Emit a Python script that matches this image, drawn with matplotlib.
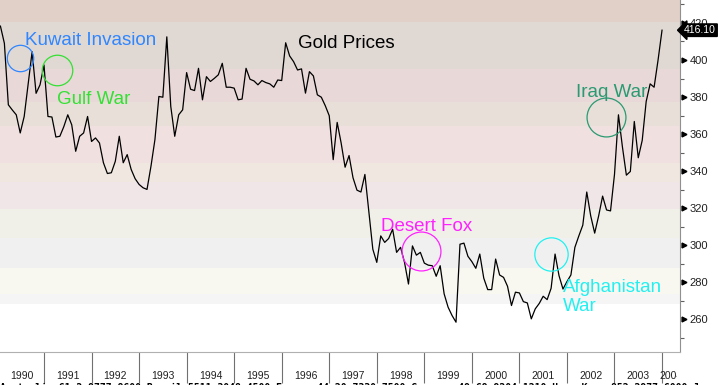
import numpy as np
import matplotlib
matplotlib.use("Agg")
import matplotlib.pyplot as plt
from matplotlib.transforms import Bbox, TransformedBbox

# ---------------- data ----------------
month_index = list(range(1, 169))  # months since Jan 1990 (Feb 1990 .. Jan 2004)
gold_prices = [
    418.3, 409.0, 375.8, 373.0, 370.4, 360.6, 369.5, 387.0, 404.5, 382.0, 386.6, 397.3,
    369.5, 369.2, 358.4, 358.8, 364.0, 370.4, 365.0, 350.7, 358.8, 360.6, 369.5, 356.0,
    357.9, 355.2, 344.5, 338.7, 339.1, 345.3, 358.8, 344.5, 348.9, 340.9, 335.9, 332.8,
    331.0, 330.1, 342.6, 357.0, 380.3, 379.9, 412.5, 374.9, 358.8, 370.4, 373.1, 393.2,
    384.2, 383.5, 395.5, 378.5, 391.0, 388.4, 390.1, 392.0, 398.2, 385.3, 385.3, 384.8,
    378.5, 378.9, 395.5, 389.6, 388.7, 386.6, 388.9, 387.8, 387.1, 385.3, 389.2, 388.9,
    409.3, 402.2, 399.1, 394.6, 395.2, 382.1, 393.7, 391.4, 381.2, 379.9, 375.3, 369.9,
    346.2, 366.3, 355.2, 342.1, 348.4, 336.4, 329.7, 328.7, 338.2, 318.0, 297.8, 290.7,
    305.0, 301.5, 303.6, 308.6, 296.1, 298.8, 290.7, 279.0, 299.6, 294.6, 296.1, 290.3,
    289.2, 288.9, 283.2, 288.9, 273.7, 266.5, 262.0, 258.4, 300.5, 301.1, 294.0, 291.1,
    287.5, 295.2, 282.2, 276.0, 276.0, 292.5, 283.9, 282.6, 277.8, 267.4, 274.6, 274.2,
    269.5, 268.8, 260.2, 265.6, 268.5, 272.4, 270.6, 276.7, 295.2, 283.5, 276.3, 280.3,
    283.9, 298.8, 305.0, 310.8, 328.7, 315.8, 306.5, 315.8, 326.5, 319.0, 318.5, 338.2,
    370.4, 353.1, 337.8, 339.8, 366.8, 347.2, 356.6, 377.6, 387.1, 385.3, 400.0, 416.1,
]
year_labels = [str(y) for y in range(1990, 2005)]
y_ticks = [260, 280, 300, 320, 340, 360, 380, 400, 420]

# background price bands (edges in price, colours)
band_edges = [432.5, 420.4, 395.2, 377.4, 364.5, 344.6, 333.9, 319.4, 303.8, 287.6, 273.7, 268.3, 242.0]
band_colors = ["#e0d0c8", "#e0d8d2", "#e8d8d8", "#e8e0d8", "#f0e0e0", "#f0e8e0",
               "#f0e6e8", "#f0f0e8", "#f0f0f0", "#f8f8f0", "#f5f5f5", "#ffffff"]

# events: label, text position (year, price), circle centre (year, price), circle diameter (pt), colour
events = [
    ("Kuwait Invasion", (1990.60, 408.1), (1990.495, 401.1), 19, "#2f86ff"),
    ("Gulf War", (1991.273, 376.2), (1991.273, 394.6), 22, "#33e033"),
    ("Desert Fox", (1998.089, 307.7), (1998.924, 296.6), 28, "#ff22ff"),
    ("Afghanistan\nWar", (2001.917, 264.6), (2001.658, 295.2), 24, "#22f0f0"),
    ("Iraq War", (2002.191, 380.2), (2002.822, 369.2), 28, "#2a9a72"),
]

# ---------------- figure ----------------
W, H = 719, 385
fig = plt.figure(figsize=(W / 100, H / 100), dpi=100)
ax = fig.add_axes([0, 33 / H, 680 / W, 352 / H])

FONT = ["Liberation Sans", "DejaVu Sans"]

x = 1990 + np.array(month_index) / 12.0
xmin, xmax = 1990.0745, 2004.378
ymin, ymax = 242.3, 432.4

for i, c in enumerate(band_colors):
    ax.axhspan(band_edges[i + 1], band_edges[i], color=c, lw=0, zorder=0)

ax.plot(x, gold_prices, color="black", lw=0.9, zorder=3)

ax.set_xlim(xmin, xmax)
ax.set_ylim(ymin, ymax)

# spines
for s in ["left", "top"]:
    ax.spines[s].set_visible(False)
ax.spines["right"].set_color("#909090")
ax.spines["bottom"].set_color("#b0b0b0")

# y axis on the right
ax.yaxis.tick_right()
ax.set_yticks(y_ticks)
ax.set_yticklabels([str(v) for v in y_ticks], fontfamily=FONT, fontsize=8, color="#202020")
ax.set_yticks(np.arange(250, 431, 20), minor=True)
ax.tick_params(axis="y", which="major", length=0, pad=7)
ax.tick_params(axis="y", which="minor", length=3, color="#606060", width=0.8, right=True, left=False)
ytr = ax.get_yaxis_transform()
ax.plot([1.0 + 3.5 / 680] * len(y_ticks), y_ticks, linestyle="none", marker=">",
        markersize=3.5, color="black", transform=ytr, clip_on=False, zorder=5)

# x axis: separators at year starts, labels centred on the visible part of each year
years = np.arange(1990, 2005)
ax.set_xticks(years[1:])
ax.set_xticklabels([])
ax.tick_params(axis="x", which="major", length=22, color="#707070", width=0.8, direction="out")
clip = TransformedBbox(Bbox.from_extents(0, 0, 677 / W, 1), fig.transFigure)
xtr = ax.get_xaxis_transform()
for y, lab in zip(years, year_labels):
    lo, hi = max(y, xmin), min(y + 1, xmax)
    t = ax.text((lo + hi) / 2, -24 / 352, lab, transform=xtr, ha="center", va="center",
                fontfamily=FONT, fontsize=7.5, color="#202020", clip_on=True)
    t.set_clip_box(clip)

# last value tag
ax.text(1.0 + 36 / 680, gold_prices[-1], f"{gold_prices[-1]:.2f}", transform=ytr,
        ha="right", va="center", fontfamily=FONT, fontsize=7.5, color="white",
        bbox=dict(boxstyle="larrow,pad=0.12", fc="black", ec="black"), clip_on=False, zorder=6)

# title
ax.text(1996.343, 406.3, "Gold Prices", fontfamily=FONT, fontsize=13.5, color="black",
        ha="left", va="baseline", zorder=4)

# event annotations
for label, tpos, cpos, dia, col in events:
    ax.text(tpos[0], tpos[1], label, fontfamily=FONT, fontsize=13.5, color=col,
            ha="left", va="baseline", linespacing=1.15, zorder=4)
    ax.plot([cpos[0]], [cpos[1]], marker="o", markersize=dia, markerfacecolor="none",
            markeredgecolor=col, markeredgewidth=0.9, zorder=4)

# footer (cut off at bottom edge)
fig.text(0.0, 1 - 383 / H, "Australia 61 2 9777 8600 Brazil 5511 3048 4500 Europe 44 20 7330 7500 "
         "Germany 49 69 9204 1210 Hong Kong 852 2977 6000 Japan 81 3 3201 8900 Singapore 65 6212 1000 "
         "U.S. 1 212 318 2000", fontfamily="DejaVu Sans Mono", fontsize=7, fontweight="bold",
         color="black", va="top", ha="left")

fig.savefig("out.png", dpi=100)
